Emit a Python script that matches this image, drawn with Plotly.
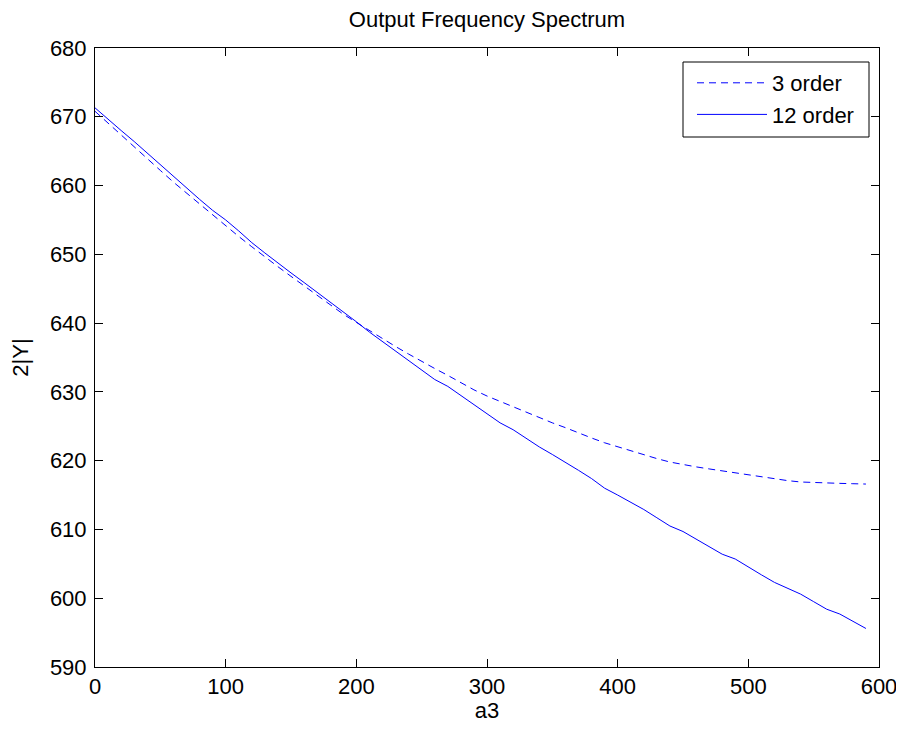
import plotly.graph_objects as go

a3 = list(range(0, 600, 10))

order3 = [670.8, 669.05, 667.3, 665.6, 663.9, 662.2, 660.5, 658.9, 657.3, 655.7,
          654.1, 652.6, 651.1, 649.6, 648.2, 646.8, 645.4, 644.0, 642.6, 641.3,
          640.1, 638.9, 637.7, 636.6, 635.5, 634.4, 633.4, 632.4, 631.3, 630.3,
          629.4, 628.6, 627.8, 627.0, 626.3, 625.5, 624.8, 624.0, 623.3, 622.6,
          622.0, 621.4, 620.8, 620.3, 619.8, 619.4, 619.1, 618.8, 618.5, 618.2,
          618.0, 617.7, 617.4, 617.1, 616.9, 616.8, 616.75, 616.7, 616.65, 616.6]

order12 = [671.3, 669.6, 668.0, 666.4, 664.7, 663.0, 661.3, 659.6, 658.0, 656.4,
           655.0, 653.4, 651.7, 650.2, 648.7, 647.3, 645.9, 644.5, 643.1, 641.7,
           640.2, 638.7, 637.3, 636.0, 634.6, 633.1, 631.8, 630.8, 629.5, 628.1,
           626.8, 625.5, 624.5, 623.2, 622.0, 620.9, 619.8, 618.6, 617.4, 616.0,
           615.0, 614.0, 612.9, 611.7, 610.5, 609.7, 608.6, 607.5, 606.4, 605.7,
           604.5, 603.4, 602.3, 601.5, 600.6, 599.5, 598.4, 597.7, 596.7, 595.6]

series_names = ["3 order", "12 order"]
title_text = "Output Frequency Spectrum"
x_label = "a3"
y_label = "2|Y|"

FONT = "Liberation Sans, Arial, sans-serif"
BLUE = "rgb(0,0,255)"
FS = 22

# page has an 8px body margin; figure coordinates = page coordinates - 8
W, H = 888, 715
L, R, T, B = 87, 17, 40, 56
PW, PH = W - L - R, H - T - B

def px_x(p):
    return (p - L) / PW

def px_y(p):
    return 1 - (p - T) / PH

fig = go.Figure()
fig.add_trace(go.Scatter(x=a3, y=order3, mode="lines", name=series_names[0],
                         line=dict(color=BLUE, width=1, dash="7px,5px")))
fig.add_trace(go.Scatter(x=a3, y=order12, mode="lines", name=series_names[1],
                         line=dict(color=BLUE, width=1)))

axis_common = dict(
    showgrid=False, zeroline=False, showline=True, linecolor="black", linewidth=1,
    mirror="ticks", ticks="inside", ticklen=8, tickcolor="black", tickwidth=1,
    tickfont=dict(family=FONT, size=FS, color="black"), automargin=False,
    ticklabeloverflow="allow",
)

# legend frame (box drawn as a shape so it can be as wide as the reference's)
fig.add_shape(type="rect", xref="paper", yref="paper",
              x0=px_x(675), x1=px_x(861), y0=px_y(129), y1=px_y(54),
              line=dict(color="black", width=1), fillcolor="white", layer="above")

fig.update_layout(
    width=W, height=H,
    paper_bgcolor="white", plot_bgcolor="white",
    margin=dict(l=L, r=R, t=T, b=B, autoexpand=False),
    font=dict(family=FONT, size=FS, color="black"),
    title=dict(text=title_text, x=(L + PW / 2) / W, xanchor="center", y=1 - 11.5 / H, yanchor="middle",
               font=dict(family=FONT, size=FS, color="black")),
    xaxis=dict(range=[0, 600], tickmode="array", tickvals=[0, 100, 200, 300, 400, 500, 600],
               ticklabelstandoff=0,
               title=dict(text=x_label, standoff=10, font=dict(family=FONT, size=FS)),
               **axis_common),
    yaxis=dict(range=[590, 680], tickmode="array", tickvals=list(range(590, 681, 10)),
               ticklabelstandoff=3,
               title=dict(text=y_label, standoff=24, font=dict(family=FONT, size=FS)),
               **axis_common),
    legend=dict(x=px_x(684), y=px_y(54), xanchor="left", yanchor="top",
                borderwidth=0, bgcolor="rgba(0,0,0,0)",
                font=dict(family=FONT, size=FS, color="black"),
                itemwidth=70, tracegroupgap=0),
    showlegend=True,
)

fig.write_html("out.html")
